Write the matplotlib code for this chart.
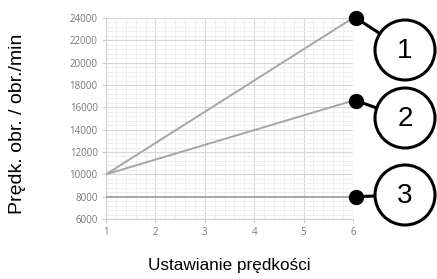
import numpy as np
import matplotlib.pyplot as plt
from matplotlib.patches import Circle
from matplotlib.ticker import MultipleLocator

# data
settings = [1, 2, 3, 4, 5, 6]
series_1 = [10000, 12800, 15600, 18400, 21200, 24000]
series_2 = [10000, 11320, 12640, 13960, 15280, 16600]
series_3 = [8000, 8000, 8000, 8000, 8000, 8000]
labels = ["1", "2", "3"]
yticks = [6000, 8000, 10000, 12000, 14000, 16000, 18000, 20000, 22000, 24000]

fig = plt.figure(figsize=(4.37, 2.79), dpi=100)
ax = fig.add_axes([106/437, 1-219/279, 247/437, 201/279])

line_col = "#a6a6a6"
for s in (series_1, series_2, series_3):
    ax.plot(settings, s, color=line_col, lw=1.4, zorder=3)

ax.set_xlim(1, 6)
ax.set_ylim(6000, 24000)
ax.set_xticks(settings)
ax.set_yticks(yticks)
ax.xaxis.set_minor_locator(MultipleLocator(0.2))
ax.yaxis.set_minor_locator(MultipleLocator(400))
ax.grid(which="major", color="#d8d8d8", lw=0.8)
ax.grid(which="minor", color="#ececec", lw=0.6)
for sp in ["top", "right"]:
    ax.spines[sp].set_visible(False)
for sp in ["left", "bottom"]:
    ax.spines[sp].set_color("#cfcfcf")
ax.tick_params(which="major", labelsize=7, colors="#cfcfcf", labelcolor="#777777", length=3, pad=3)
ax.tick_params(which="minor", length=0)
for t in ax.get_xticklabels() + ax.get_yticklabels():
    t.set_family("Open Sans")

ax.set_xlabel("Ustawianie prędkości", family="Liberation Sans", fontsize=12.3, labelpad=14)
fig.text(18/437, 1-124/279, "Prędk. obr. / obr./min", family="Liberation Sans", fontsize=14,
         rotation=90, ha="center", va="center")

# overlay in pixel coordinates for the numbered callouts
ov = fig.add_axes([0, 0, 1, 1])
ov.set_xlim(0, 437)
ov.set_ylim(279, 0)
ov.axis("off")
ov.patch.set_alpha(0)

ends = [series_1[-1], series_2[-1], series_3[-1]]
centers = [(405, 50), (405, 118), (405, 195)]
for val, (cx, cy), lab in zip(ends, centers, labels):
    px, py = ax.transData.transform((settings[-1], val))
    py = 279 - py
    px += 3
    ov.plot([px, cx], [py, cy], color="black", lw=2.2, zorder=2)
    ov.plot(px, py, "o", color="black", ms=10, zorder=4)
    ov.add_patch(Circle((cx, cy), 30, facecolor="white", edgecolor="black", lw=2.2, zorder=3))
    ov.text(cx, cy + 1, lab, ha="center", va="center", fontsize=20, family="Liberation Sans", zorder=5)

fig.savefig("out.png", dpi=100)
